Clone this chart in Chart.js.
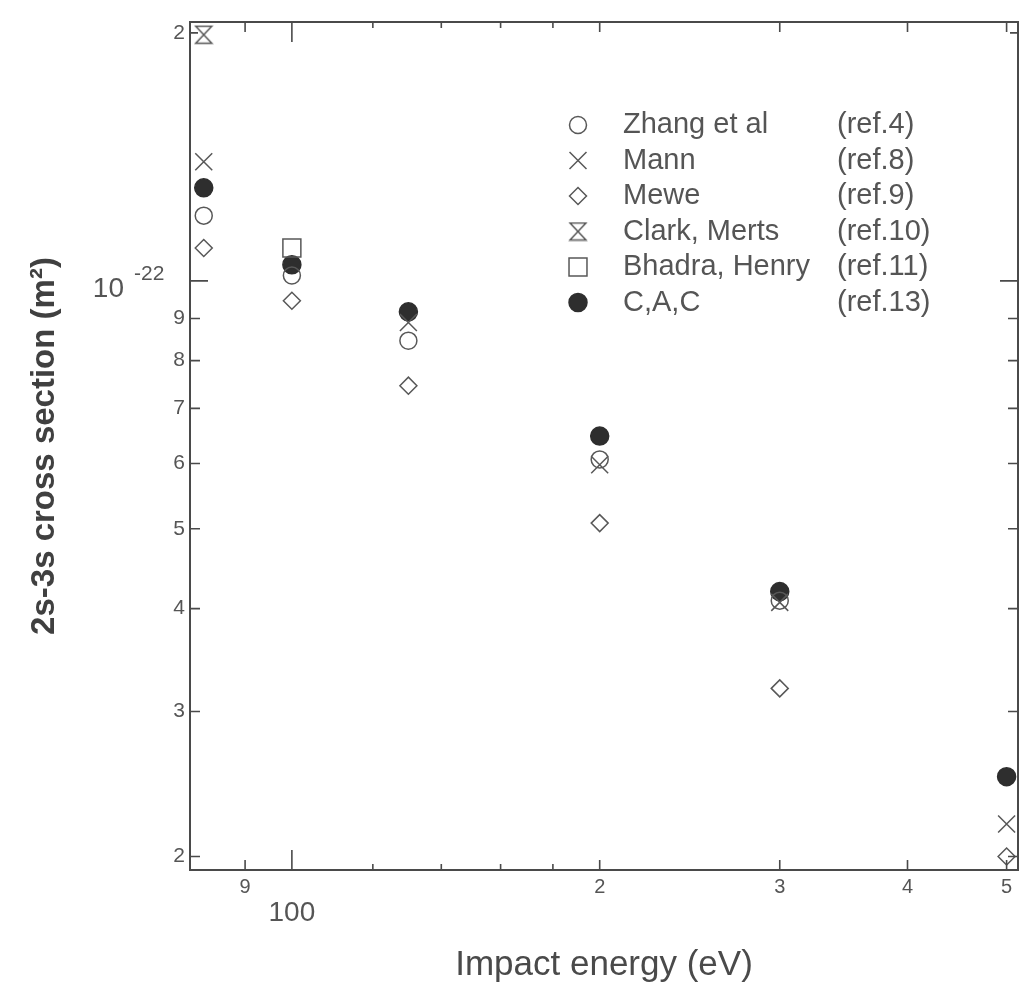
<!DOCTYPE html>
<html>
<head>
<meta charset="utf-8">
<title>2s-3s cross section</title>
<script src="https://cdn.jsdelivr.net/npm/chart.js@4.4.1/dist/chart.umd.min.js"></script>
<style>
  html, body { margin: 0; padding: 0; background: #fff; }
  canvas { display: block; }
</style>
</head>
<body>
<canvas id="crossSection" width="1025" height="987"></canvas>
<script>
// impact energy (eV) and 2s-3s cross section (m^2) for each calculation
const zhangEnergy = [82, 100, 130, 200, 300];
const zhangSigma  = [1.20e-22, 1.015e-22, 0.846e-22, 0.607e-22, 0.409e-22];

const mannEnergy = [82, 130, 200, 300, 500];
const mannSigma  = [1.395e-22, 0.890e-22, 0.598e-22, 0.407e-22, 0.219e-22];

const meweEnergy = [82, 100, 130, 200, 300, 500];
const meweSigma  = [1.096e-22, 0.946e-22, 0.746e-22, 0.508e-22, 0.320e-22, 0.200e-22];

const clarkEnergy = [82];
const clarkSigma  = [1.99e-22];

const bhadraEnergy = [100];
const bhadraSigma  = [1.096e-22];

const cacEnergy = [82, 100, 130, 200, 300, 500];
const cacSigma  = [1.297e-22, 1.046e-22, 0.917e-22, 0.648e-22, 0.4195e-22, 0.250e-22];

const seriesNames = ['Zhang et al', 'Mann', 'Mewe', 'Clark, Merts', 'Bhadra, Henry', 'C,A,C'];
const seriesRefs  = ['(ref.4)', '(ref.8)', '(ref.9)', '(ref.10)', '(ref.11)', '(ref.13)'];

// axis ticks and their labels
const energyTicks  = [90, 100, 120, 140, 160, 180, 200, 300, 400, 500];
const energyLabels = ['9', '', '', '', '', '', '2', '3', '4', '5'];
const sigmaTicks   = [2e-23, 3e-23, 4e-23, 5e-23, 6e-23, 7e-23, 8e-23, 9e-23, 1e-22, 2e-22];
const sigmaLabels  = ['2', '3', '4', '5', '6', '7', '8', '9', '', '2'];

const FONT = '"Liberation Sans", Arial, Helvetica, sans-serif';
const INK = '#555';
const MARK = '#585858';

// hourglass marker for Clark, Merts
const hourglass = document.createElement('canvas');
hourglass.width = 20;
hourglass.height = 20;
(function () {
  const g = hourglass.getContext('2d');
  g.strokeStyle = MARK;
  g.lineWidth = 1.5;
  g.beginPath();
  g.moveTo(2, 1.5);
  g.lineTo(18, 1.5);
  g.lineTo(2, 18.5);
  g.lineTo(18, 18.5);
  g.closePath();
  g.stroke();
})();

function series(label, xs, ys, style, radius, filled) {
  return {
    label: label,
    data: xs.map((e, i) => ({x: e, y: ys[i]})),
    pointStyle: style,
    pointRadius: radius,
    pointHoverRadius: radius,
    pointBorderWidth: 1.5,
    pointBorderColor: filled ? '#2e2e2e' : MARK,
    pointBackgroundColor: filled ? '#2e2e2e' : 'rgba(0,0,0,0)',
    showLine: false
  };
}

const datasets = [
  series(seriesNames[0], zhangEnergy, zhangSigma, 'circle', 8.5, false),
  series(seriesNames[1], mannEnergy, mannSigma, 'crossRot', 12, false),
  series(seriesNames[2], meweEnergy, meweSigma, 'rectRot', 8.5, false),
  series(seriesNames[3], clarkEnergy, clarkSigma, hourglass, 10, false),
  series(seriesNames[4], bhadraEnergy, bhadraSigma, 'rect', 12.7, false),
  series(seriesNames[5], cacEnergy, cacSigma, 'circle', 9, true)
];

// frame with inward ticks on all four sides, special decade labels, legend
const framePlugin = {
  id: 'frame',
  afterDraw(chart) {
    const {ctx, chartArea: a, scales: {x, y}} = chart;
    ctx.save();
    ctx.strokeStyle = '#4a4a4a';
    ctx.lineWidth = 2;
    ctx.strokeRect(a.left, a.top, a.right - a.left, a.bottom - a.top);

    ctx.lineWidth = 1.6;
    ctx.beginPath();
    energyTicks.forEach(v => {
      const len = v === 100 ? 20 : (v > 100 && v < 200 ? 6 : 10);
      const px = x.getPixelForValue(v);
      ctx.moveTo(px, a.bottom); ctx.lineTo(px, a.bottom - len);
      ctx.moveTo(px, a.top); ctx.lineTo(px, a.top + len);
    });
    sigmaTicks.forEach(v => {
      const len = v === 1e-22 ? 18 : (v === 2e-22 ? 8 : 10);
      const py = y.getPixelForValue(v);
      ctx.moveTo(a.left, py); ctx.lineTo(a.left + len, py);
      ctx.moveTo(a.right, py); ctx.lineTo(a.right - len, py);
    });
    ctx.stroke();

    ctx.fillStyle = INK;
    ctx.textBaseline = 'middle';
    ctx.textAlign = 'center';
    ctx.font = '28px ' + FONT;
    ctx.fillText('100', x.getPixelForValue(100), a.bottom + 43);

    const decade = y.getPixelForValue(1e-22);
    ctx.textAlign = 'right';
    ctx.font = '28px ' + FONT;
    ctx.fillText('10', 124, decade + 8);
    ctx.textAlign = 'left';
    ctx.font = '21px ' + FONT;
    ctx.fillText('-22', 134, decade - 7);

    // legend
    const drawPoint = Chart.helpers && Chart.helpers.drawPoint;
    chart.data.datasets.forEach((ds, i) => {
      const rowY = 125 + i * 35.5;
      if (drawPoint) {
        ctx.save();
        ctx.lineWidth = 1.5;
        ctx.strokeStyle = ds.pointBorderColor;
        ctx.fillStyle = ds.pointBackgroundColor;
        drawPoint(ctx, {pointStyle: ds.pointStyle, radius: ds.pointRadius, rotation: 0, borderWidth: 1.5}, 578, rowY);
        ctx.restore();
      }
      ctx.fillStyle = INK;
      ctx.textAlign = 'left';
      ctx.font = '29px ' + FONT;
      ctx.fillText(seriesNames[i], 623, rowY);
      ctx.fillText(seriesRefs[i], 837, rowY);
    });
    ctx.restore();
  }
};

new Chart(document.getElementById('crossSection'), {
  type: 'scatter',
  data: {datasets: datasets},
  options: {
    responsive: false,
    animation: false,
    layout: {autoPadding: false, padding: {left: 0, top: 22, right: 7, bottom: 0}},
    plugins: {
      legend: {display: false},
      tooltip: {enabled: false}
    },
    scales: {
      x: {
        type: 'logarithmic',
        min: 79.5,
        max: 513,
        grid: {display: false, drawTicks: false},
        border: {display: false},
        afterBuildTicks: scale => { scale.ticks = energyTicks.map(v => ({value: v})); },
        afterFit: scale => { scale.height = 117; },
        ticks: {
          autoSkip: false,
          maxRotation: 0,
          padding: 5,
          color: INK,
          font: {family: FONT, size: 20},
          callback: (v, i) => energyLabels[i]
        },
        title: {
          display: true,
          text: 'Impact energy (eV)',
          color: '#4a4a4a',
          font: {family: FONT, size: 35},
          padding: {top: 0, bottom: 1}
        }
      },
      y: {
        type: 'logarithmic',
        min: 1.926e-23,
        max: 2.062e-22,
        grid: {display: false, drawTicks: false},
        border: {display: false},
        afterBuildTicks: scale => { scale.ticks = sigmaTicks.map(v => ({value: v})); },
        afterFit: scale => { scale.width = 190; },
        ticks: {
          autoSkip: false,
          padding: 5,
          color: INK,
          font: {family: FONT, size: 21},
          callback: (v, i) => sigmaLabels[i]
        },
        title: {
          display: true,
          text: '2s-3s cross section (m²)',
          color: '#404040',
          font: {family: FONT, size: 33, weight: 'bold'},
          padding: {top: 25, bottom: 0}
        }
      }
    }
  },
  plugins: [framePlugin]
});
</script>
</body>
</html>
